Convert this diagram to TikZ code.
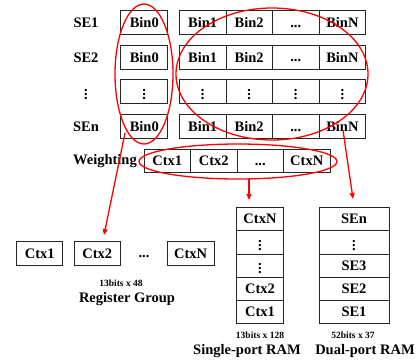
\documentclass[tikz,border=0pt]{standalone}
\usepackage{amsmath,bm}
\usepackage{fontspec}
\setmainfont{Liberation Serif}
\usetikzlibrary{shapes.geometric,arrows.meta}
\newcommand{\vd}{\raisebox{-0.5pt}{$\boldsymbol{\vdots}$}}
\newcommand{\ddd}{\vphantom{B}...}
\begin{document}
\begin{tikzpicture}[x=1pt,y=-1pt,
  cell/.style={draw=black!85, line width=0.8pt, minimum height=23.3pt, inner sep=0pt, font=\fontsize{14.5}{15}\selectfont\bfseries},
  lab/.style={inner sep=0pt, font=\fontsize{14.5}{15}\selectfont\bfseries},
  small/.style={inner sep=0pt, font=\fontsize{9.5}{10}\selectfont\bfseries},
  ring/.style={draw=red, line width=1.3pt, ellipse, inner sep=0pt},
  redarrow/.style={draw=red, line width=1.3pt, -{Triangle[length=6pt,width=5pt]}}
]
\useasboundingbox (0,0) rectangle (419,360);
% SE labels
\node[lab] (se1) at (86,23) {SE1};
\node[lab] (se2) at (86,57.5) {SE2};
\node[lab] (sed) at (86,92) {\vd};
\node[lab] (sen) at (86,127) {SEn};
% rows
\foreach \r/\y in {1/22.5, 2/57.3, 4/126.5}{
  \node[cell, minimum width=47pt] (b0\r) at (144.3,\y) {Bin0};
  \node[cell, minimum width=46.6pt] (b1\r) at (202.6,\y) {Bin1};
  \node[cell, minimum width=46.6pt] (b2\r) at (249.2,\y) {Bin2};
  \node[cell, minimum width=46.6pt] (b3\r) at (295.8,\y) {\ddd};
  \node[cell, minimum width=46.6pt] (b4\r) at (342.4,\y) {BinN};
}
\node[cell, minimum width=47pt] (b03) at (144.3,91.5) {\vd};
\node[cell, minimum width=46.6pt] (b13) at (202.6,91.5) {\vd};
\node[cell, minimum width=46.6pt] (b23) at (249.2,91.5) {\vd};
\node[cell, minimum width=46.6pt] (b33) at (295.8,91.5) {\vd};
\node[cell, minimum width=46.6pt] (b43) at (342.4,91.5) {\vd};
% weighting
\node[lab, anchor=east] (wt) at (137,161) {Weighting};
\node[cell, minimum width=46.5pt] (w1) at (167.25,161) {Ctx1};
\node[cell, minimum width=46.5pt] (w2) at (213.75,161) {Ctx2};
\node[cell, minimum width=46.5pt] (w3) at (260.25,161) {\ddd};
\node[cell, minimum width=46.5pt] (w4) at (306.75,161) {CtxN};
% ellipses
\node[ring, minimum width=58pt, minimum height=140pt] (e1) at (144,74) {};
\node[ring, minimum width=192pt, minimum height=132pt] (e2) at (272,74) {};
\node[ring, minimum width=198pt, minimum height=35pt] (e3) at (238,161.5) {};
% register group
\node[cell, minimum width=46pt] (r1) at (39.7,253.3) {Ctx1};
\node[cell, minimum width=46.6pt] (r2) at (97.3,253.3) {Ctx2};
\node[lab] (rd) at (144,253.3) {\ddd};
\node[cell, minimum width=46.6pt] (rn) at (190.7,253.3) {CtxN};
\node[small] (rbits) at (121,283) {13bits x 48};
\node[lab] (rname) at (127,299) {Register Group};
% single-port RAM
\node[cell, minimum width=46.6pt] (s5) at (260,219) {CtxN};
\node[cell, minimum width=46.6pt] (s4) at (260,242.3) {\vd};
\node[cell, minimum width=46.6pt] (s3) at (260,265.6) {\vd};
\node[cell, minimum width=46.6pt] (s2) at (260,288.9) {Ctx2};
\node[cell, minimum width=46.6pt] (s1) at (260,312.2) {Ctx1};
\node[small] (sbits) at (260,335) {13bits x 128};
\node[lab] (sname) at (247,351) {Single-port RAM};
% dual-port RAM
\node[cell, minimum width=70pt] (d5) at (354,219) {SEn};
\node[cell, minimum width=70pt] (d4) at (354,242.3) {\vd};
\node[cell, minimum width=70pt] (d3) at (354,265.6) {SE3};
\node[cell, minimum width=70pt] (d2) at (354,288.9) {SE2};
\node[cell, minimum width=70pt] (d1) at (354,312.2) {SE1};
\node[small] (dbits) at (353,335) {52bits x 37};
\node[lab] (dname) at (365,351) {Dual-port RAM};
% arrows
\coordinate (a1s) at (125,133);
\coordinate (a1e) at (104,235);
\coordinate (a2s) at (343,130);
\coordinate (a2e) at (353,199);
\coordinate (a3s) at (249,179);
\coordinate (a3e) at (249,200);
\draw[redarrow] (a1s) -- (a1e);
\draw[redarrow] (a2s) -- (a2e);
\draw[redarrow] (a3s) -- (a3e);
\end{tikzpicture}
\end{document}
